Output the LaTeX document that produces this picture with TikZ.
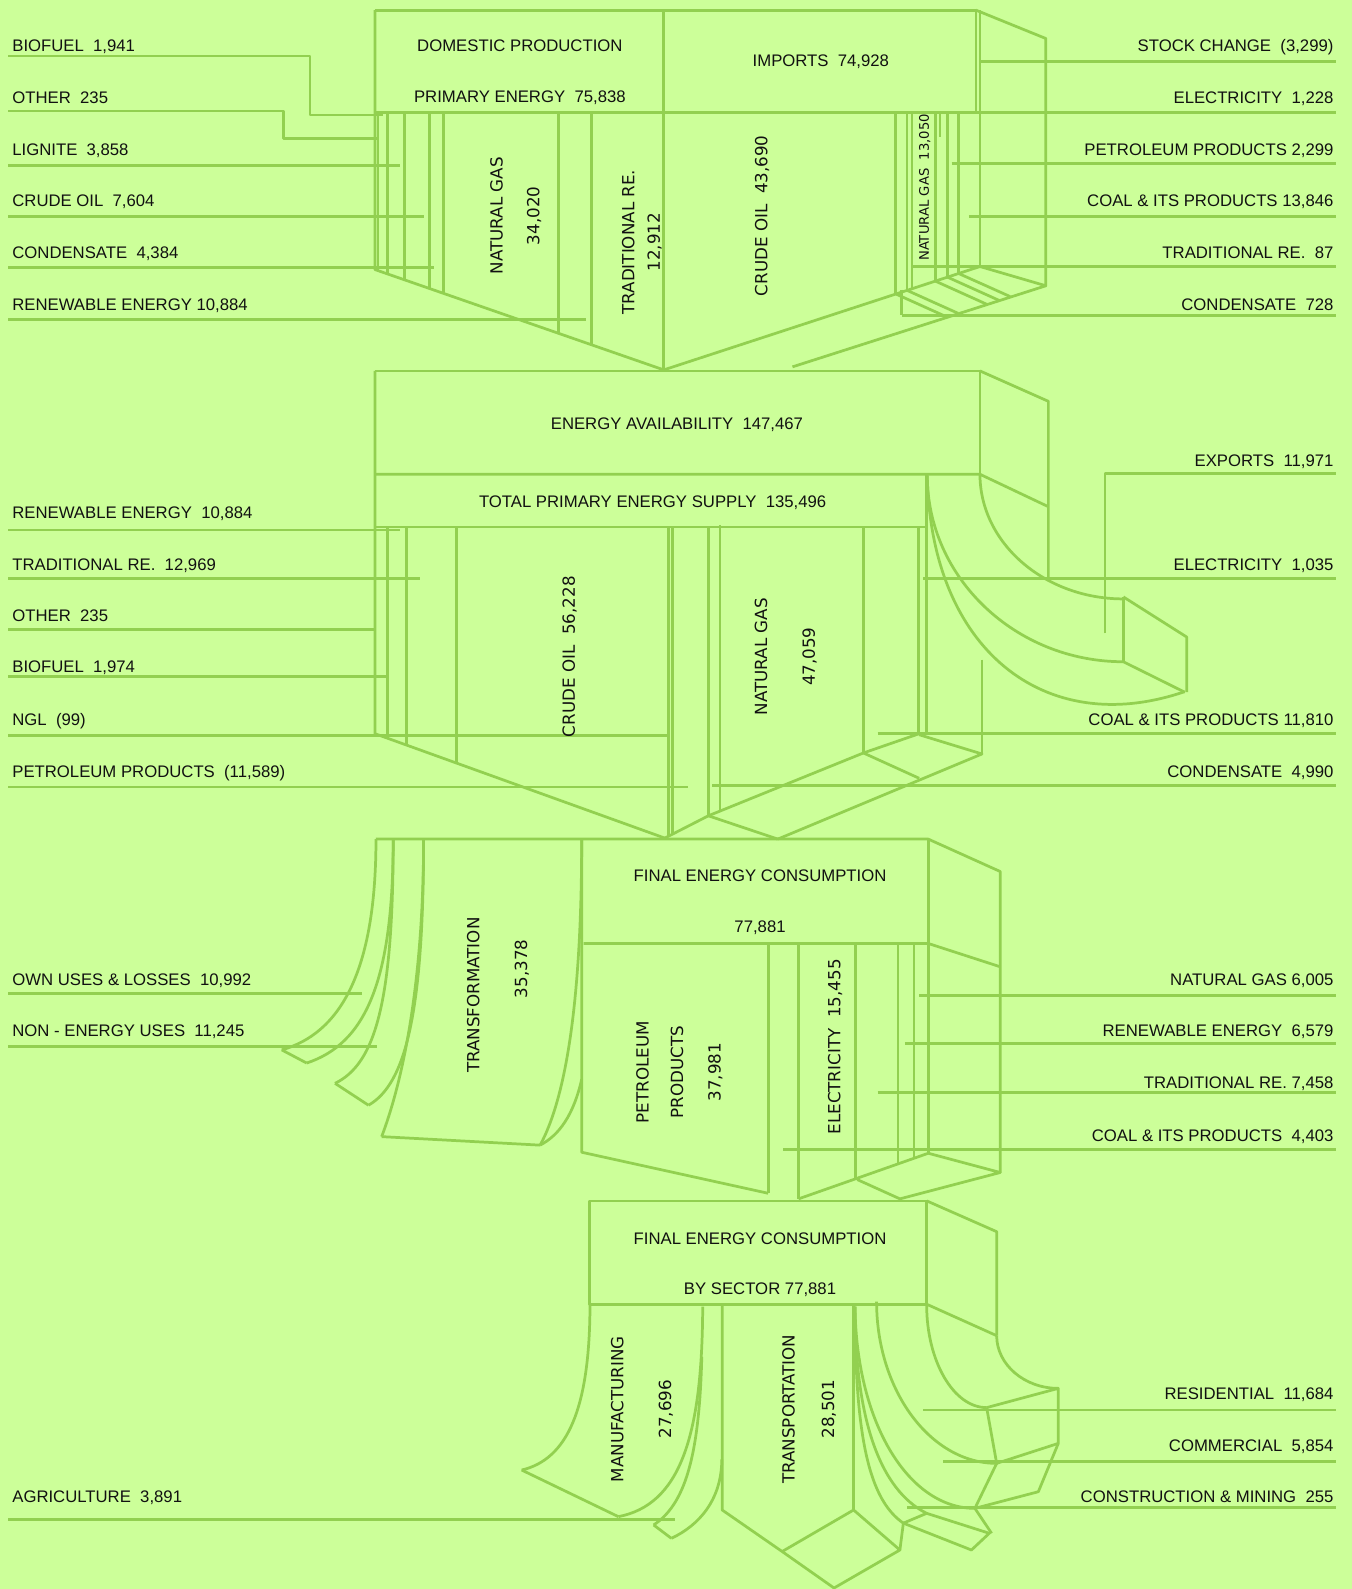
\documentclass[tikz,border=0pt]{standalone}
\usepackage{fontspec}
\setmainfont{Liberation Sans}
\newfontfamily\rotfont{DejaVu Sans}
\definecolor{bg}{HTML}{CCFF99}
\definecolor{lc}{HTML}{92D050}
\definecolor{txt}{HTML}{111111}
\tikzset{
 ln/.style={draw=lc, line width=2.7pt, line join=round},
 lab/.style={font=\fontsize{16.5}{19}\selectfont, text=txt, inner sep=0pt},
 rlab/.style={font=\rotfont\fontsize{16.5}{19}\selectfont, text=txt, inner sep=0pt, rotate=90},
 slab/.style={font=\rotfont\fontsize{13}{15}\selectfont, text=txt, inner sep=0pt, rotate=90},
 llab/.style={lab, anchor=base west},
 rrlab/.style={lab, anchor=base east}
}
\begin{document}
\begin{tikzpicture}[x=1pt,y=-1pt]
\fill[bg] (0,0) rectangle (1334,1568);
\useasboundingbox (0,0) rectangle (1334,1568);

% ================= SECTION 1 =================
\draw[ln] (370,10) -- (963,10) -- (963,111);
\draw[ln] (370,111) -- (1318,111);
\draw[ln] (370,10) -- (370,266) -- (655,365) -- (967,263) -- (1032,282) -- (1032,38) -- (963,10);
\draw[ln] (655,10) -- (655,365);
\draw[ln] (967,10) -- (967,263);
\draw[ln] (782,362) -- (1032,282);
\foreach \x/\y in {373/267, 382.5/270.3, 399/276.1, 423.7/284.7, 437.5/289.4, 551/328.9, 584/340.3}
  \draw[ln] (\x,111) -- (\x,\y);
\foreach \x/\y in {884/290.1, 895/286.5, 900/284.9, 923/277.4, 935/273.5, 946/269.9}
  \draw[ln] (\x,111) -- (\x,\y);
\foreach \x/\y/\u/\v in {884/290.1/934.4/312.8, 895/286.5/945.5/309.2, 923/277.4/973.6/300.2, 935/273.5/985.6/296.3, 946/269.9/996.7/292.6}
  \draw[ln] (\x,\y) -- (\u,\v);
\draw[ln] (927.6,111) -- (927.6,135);
\draw[ln] (889.6,286) -- (889.6,311);
% left lines
\draw[ln] (8,55.3) -- (306,55.3) -- (306,113.5) -- (378,113.5);
\draw[ln] (8,109.5) -- (280,109.5) -- (280,136.5) -- (373,136.5);
\draw[ln] (8,163) -- (395,163);
\draw[ln] (8,214) -- (418,214);
\draw[ln] (8,264) -- (428,264);
\draw[ln] (8,315) -- (578,315);
% right lines
\draw[ln] (967,61) -- (1318,61);
\draw[ln] (939,161) -- (1318,161);
\draw[ln] (956,213.5) -- (1318,213.5);
\draw[ln] (899,263) -- (1318,263);
\draw[ln] (889.6,311) -- (1318,311);
% texts
\node[lab] (dp) at (513,45) {DOMESTIC PRODUCTION};
\node[lab] (pe) at (513,96) {PRIMARY ENERGY\ \ 75,838};
\node[lab] (imp) at (810,61) {IMPORTS\ \ 74,928};
\node[rlab] (ng1) at (490,213) {NATURAL GAS};
\node[rlab] (ng1v) at (527,213) {34,020};
\node[rlab] (tr1) at (620,239) {TRADITIONAL RE.};
\node[rlab] (tr1v) at (646,239) {12,912};
\node[rlab] (co1) at (752,213) {CRUDE OIL\ \ 43,690};
\node[slab] (ng2) at (912.5,185) {NATURAL GAS\ \ 13,050};
\node[llab] (l1a) at (12,51) {BIOFUEL\ \ 1,941};
\node[llab] (l1b) at (12,102) {OTHER\ \ 235};
\node[llab] (l1c) at (12,153) {LIGNITE\ \ 3,858};
\node[llab] (l1d) at (12,204) {CRUDE OIL\ \ 7,604};
\node[llab] (l1e) at (12,255) {CONDENSATE\ \ 4,384};
\node[llab] (l1f) at (12,306) {RENEWABLE ENERGY 10,884};
\node[rrlab] (r1a) at (1316,51) {STOCK CHANGE\ \ (3,299)};
\node[rrlab] (r1b) at (1316,102) {ELECTRICITY\ \ 1,228};
\node[rrlab] (r1c) at (1316,153) {PETROLEUM PRODUCTS 2,299};
\node[rrlab] (r1d) at (1316,204) {COAL \& ITS PRODUCTS 13,846};
\node[rrlab] (r1e) at (1316,255) {TRADITIONAL RE.\ \ 87};
\node[rrlab] (r1f) at (1316,306) {CONDENSATE\ \ 728};

% ================= SECTION 2 =================
\draw[ln] (370,366) -- (967,366) -- (967,468);
\draw[ln] (967,366) -- (1034.5,396) -- (1034.5,571);
\draw[ln] (370,468) -- (967,468) -- (1034.5,500);
\draw[ln] (370,366) -- (370,724) -- (656,827);
\draw[ln] (370,520) -- (914,520);
\draw[ln] (914,468) -- (914,724);
\draw[ln] (906,520) -- (906,725);
\draw[ln] (852,520) -- (852,743);
\draw[ln] (656,827) -- (699,805) -- (852,743) -- (907,724);
\foreach \x/\y in {382.2/728.4, 401.3/735.3, 450.6/753}
  \draw[ln] (\x,520) -- (\x,\y);
\draw[ln] (659.5,520) -- (659.5,825);
\draw[ln] (663.4,520) -- (663.4,823);
\draw[ln] (699,520) -- (699,805);
\draw[ln] (710.5,518) -- (710.5,800.3);
\draw[ln] (967,468) .. controls (967,535.7) and (1030.5,591) .. (1108.5,591);
\draw[ln] (915,469) .. controls (915,570.2) and (1002.1,653) .. (1108.5,653);
\draw[ln] (915,469) .. controls (918,640) and (1030,730) .. (1169,682.5);
\draw[ln] (1108.5,589) -- (1108.5,653);
\draw[ln] (1108.5,589) -- (1171,628.6) -- (1171,683);
\draw[ln] (1108.5,653) -- (1169,683);
\draw[ln] (1090.4,625) -- (1090.4,467) -- (1318,467);
\draw[ln] (969,651) -- (969,744);
\draw[ln] (907,725) -- (969,744) -- (767.5,828);
\draw[ln] (852,743) -- (907,768);
\draw[ln] (699,805) -- (767.5,828);
% left lines
\draw[ln] (8,523) -- (395,523);
\draw[ln] (8,570.5) -- (414.5,570.5);
\draw[ln] (8,621.5) -- (370,621.5);
\draw[ln] (8,667.5) -- (384,667.5);
\draw[ln] (8,725.5) -- (658,725.5);
\draw[ln] (8,776.5) -- (679,776.5);
% right lines
\draw[ln] (911,571) -- (1318,571);
\draw[ln] (866,723.5) -- (1318,723.5);
\draw[ln] (703,775) -- (1318,775);
% texts
\node[lab] (ea) at (668,419) {ENERGY AVAILABILITY\ \ 147,467};
\node[lab] (tpes) at (644,496) {TOTAL PRIMARY ENERGY SUPPLY\ \ 135,496};
\node[rlab] (co2) at (562,648) {CRUDE OIL\ \ 56,228};
\node[rlab] (ng3) at (751,648) {NATURAL GAS};
\node[rlab] (ng3v) at (799,648) {47,059};
\node[llab] (l2a) at (12,512) {RENEWABLE ENERGY\ \ 10,884};
\node[llab] (l2b) at (12,563) {TRADITIONAL RE.\ \ 12,969};
\node[llab] (l2c) at (12,613) {OTHER\ \ 235};
\node[llab] (l2d) at (12,664) {BIOFUEL\ \ 1,974};
\node[llab] (l2e) at (12,716) {NGL\ \ (99)};
\node[llab] (l2f) at (12,767) {PETROLEUM PRODUCTS\ \ (11,589)};
\node[rrlab] (r2a) at (1316,460) {EXPORTS\ \ 11,971};
\node[rrlab] (r2b) at (1316,563) {ELECTRICITY\ \ 1,035};
\node[rrlab] (r2c) at (1316,716) {COAL \& ITS PRODUCTS 11,810};
\node[rrlab] (r2d) at (1316,767) {CONDENSATE\ \ 4,990};

% ================= SECTION 3 =================
\draw[ln] (371,828) -- (916,828) -- (987,860) -- (987,1157);
\draw[ln] (916,828) -- (916,1138);
\draw[ln] (576,931) -- (916,931) -- (987,954);
\draw[ln] (574,828) -- (574,1137) -- (758,1177.5);
\foreach \x/\y in {758/1177.5, 788/1183, 844/1163.3, 886/1148.5, 902/1142.9}
  \draw[ln] (\x,931) -- (\x,\y);
\draw[ln] (788,1183) -- (916,1138) -- (987,1157) -- (888,1183) -- (846,1164);
% left ribbons
\draw[ln] (371,828) .. controls (371,960) and (335,1020) .. (278,1036);
\draw[ln] (388,828) .. controls (388,970) and (360,1030) .. (302.6,1049);
\draw[ln] (278,1036) -- (302.6,1049);
\draw[ln] (388,828) .. controls (388,990) and (370,1050) .. (330.6,1069);
\draw[ln] (418,828) .. controls (418,1000) and (400,1070) .. (363.6,1090.6);
\draw[ln] (330.6,1069) -- (363.6,1090.6);
\draw[ln] (418,828) .. controls (418,960) and (400,1060) .. (376.6,1121.6);
\draw[ln] (574,828) .. controls (574,980) and (560,1080) .. (533,1130);
\draw[ln] (376.6,1121.6) -- (533,1130);
\draw[ln] (574,1065) .. controls (566,1100) and (552,1120) .. (533,1130);
% lines
\draw[ln] (8,980) -- (357,980);
\draw[ln] (8,1032.5) -- (372,1032.5);
\draw[ln] (907,982) -- (1318,982);
\draw[ln] (893,1030) -- (1318,1030);
\draw[ln] (866,1078) -- (1318,1078);
\draw[ln] (773,1134) -- (1318,1134);
% texts
\node[lab] (fec) at (750,864) {FINAL ENERGY CONSUMPTION};
\node[lab] (fecv) at (750,915) {77,881};
\node[rlab] (trf) at (467,982) {TRANSFORMATION};
\node[rlab] (trfv) at (515,956) {35,378};
\node[rlab] (pp1) at (634,1058) {PETROLEUM};
\node[rlab] (pp2) at (668,1058) {PRODUCTS};
\node[rlab] (ppv) at (706,1058) {37,981};
\node[rlab] (el3) at (824,1033) {ELECTRICITY\ \ 15,455};
\node[llab] (l3a) at (12,972) {OWN USES \& LOSSES\ \ 10,992};
\node[llab] (l3b) at (12,1023) {NON - ENERGY USES\ \ 11,245};
\node[rrlab] (r3a) at (1316,972) {NATURAL GAS 6,005};
\node[rrlab] (r3b) at (1316,1023) {RENEWABLE ENERGY\ \ 6,579};
\node[rrlab] (r3c) at (1316,1074) {TRADITIONAL RE. 7,458};
\node[rrlab] (r3d) at (1316,1126) {COAL \& ITS PRODUCTS\ \ 4,403};

% ================= SECTION 4 =================
\draw[ln] (582,1185) -- (914.5,1185) -- (914.5,1287) -- (582,1287) -- cycle;
\draw[ln] (914.5,1185) -- (983.5,1215.4) -- (983.5,1318);
\draw[ln] (914.5,1287) -- (983.5,1318);
% right ribbons
\draw[ln] (983.5,1318) .. controls (983.5,1346.6) and (1010.9,1370) .. (1044.3,1370);
\draw[ln] (914.4,1287.5) .. controls (914.4,1343.3) and (941,1389) .. (973.6,1389);
\draw[ln] (973.6,1389) -- (1044.3,1370) -- (1044.3,1424.3) -- (983.5,1444) -- (973.6,1389);
\draw[ln] (865,1284.5) .. controls (865,1372.2) and (918.3,1444) .. (983.5,1444);
\draw[ln] (983.5,1444) -- (962,1488.4) -- (1024.6,1472) -- (1044.3,1424.3);
\draw[ln] (843.7,1289.4) .. controls (845,1405) and (897,1488.4) .. (962,1488.4);
\draw[ln] (843.7,1289.4) .. controls (843.7,1400) and (868,1470) .. (914.4,1493.3);
\draw[ln] (843.7,1289.4) .. controls (843.7,1420) and (858,1480) .. (891.4,1503);
\draw[ln] (962,1488.4) -- (978.5,1513);
\draw[ln] (891.4,1503) -- (914.4,1493.3) -- (976.2,1513) -- (958.6,1529.5) -- (891.4,1503);
% transport
\draw[ln] (712.6,1287) -- (712.6,1490) -- (771.8,1531) -- (842.3,1490) -- (842.3,1287);
\draw[ln] (771.8,1531) -- (823,1567) -- (888,1529.5) -- (842.3,1490);
\draw[ln] (891.4,1503) -- (888,1529.5);
% manufacturing / agriculture
\draw[ln] (582.2,1287) .. controls (582,1390) and (560,1440) .. (514.8,1450.6);
\draw[ln] (514.8,1450.6) -- (610.2,1496.6);
\draw[ln] (693.4,1289.4) .. controls (693,1420) and (670,1485) .. (610.2,1496.6);
\draw[ln] (692.5,1338.8) .. controls (690,1440) and (675,1485) .. (645,1504.8);
\draw[ln] (712.3,1440) .. controls (712,1480) and (690,1505) .. (662.5,1518);
\draw[ln] (645,1504.8) -- (662.5,1518);
% lines
\draw[ln] (8,1499.3) -- (666,1499.3);
\draw[ln] (911,1391.4) -- (1318,1391.4);
\draw[ln] (930.8,1442.3) -- (1318,1442.3);
\draw[ln] (895.3,1487.7) -- (1318,1487.7);
% texts
\node[lab] (fec2) at (750,1222) {FINAL ENERGY CONSUMPTION};
\node[lab] (fec2v) at (750,1273) {BY SECTOR 77,881};
\node[rlab] (man) at (609,1390.5) {MANUFACTURING};
\node[rlab] (manv) at (657,1390.5) {27,696};
\node[rlab] (trn) at (778,1390.5) {TRANSPORTATION};
\node[rlab] (trnv) at (818,1390.5) {28,501};
\node[llab] (l4a) at (12,1483) {AGRICULTURE\ \ 3,891};
\node[rrlab] (r4a) at (1316,1381) {RESIDENTIAL\ \ 11,684};
\node[rrlab] (r4b) at (1316,1432) {COMMERCIAL\ \ 5,854};
\node[rrlab] (r4c) at (1316,1483) {CONSTRUCTION \& MINING\ \ 255};
\end{tikzpicture}
\end{document}
